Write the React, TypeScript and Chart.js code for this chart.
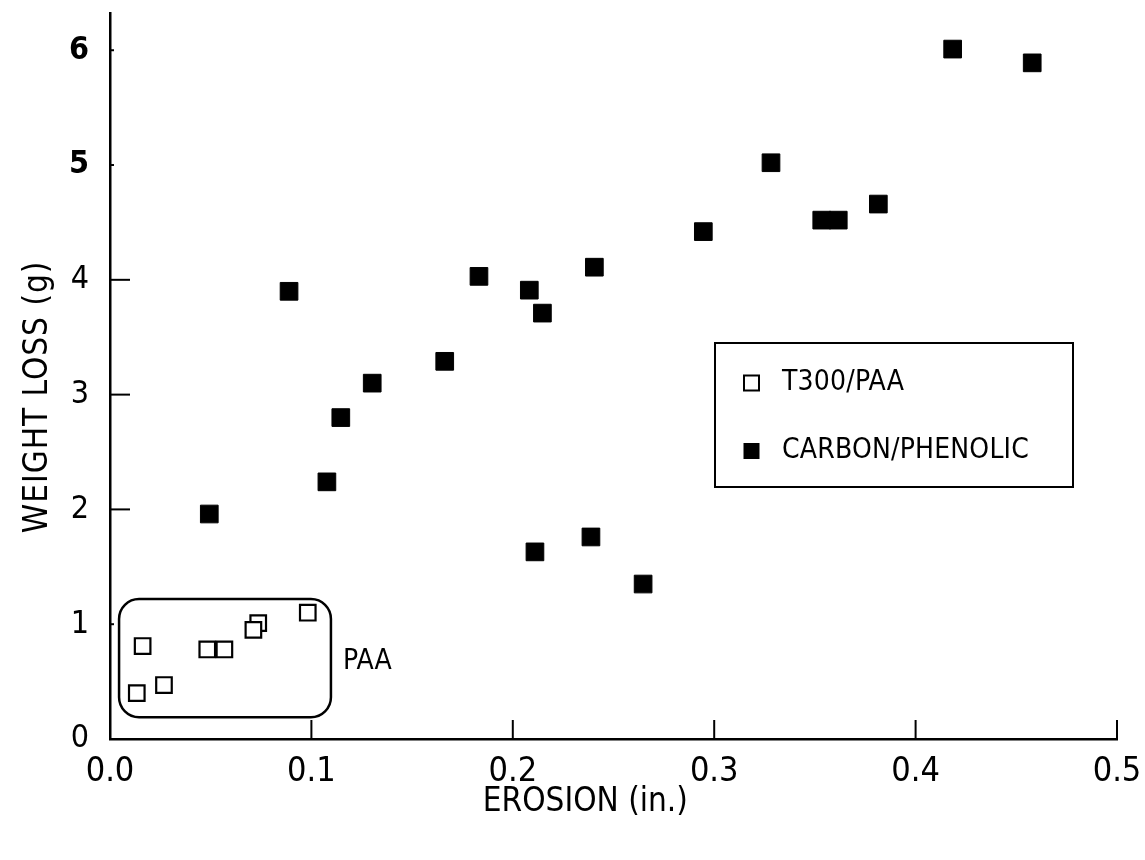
import React, { useEffect, useRef } from "react";
import { Chart, registerables } from "chart.js";

Chart.register(...registerables);

const FONT = "'Liberation Sans Narrow', 'Arial Narrow', 'DejaVu Sans Condensed', sans-serif";

// ---- data ----
const seriesNames = ["T300/PAA", "CARBON/PHENOLIC"];
const paaErosion = [0.0133, 0.0162, 0.0268, 0.0483, 0.0568, 0.0736, 0.0712, 0.0982];
const paaWeightLoss = [0.4, 0.81, 0.47, 0.78, 0.78, 1.01, 0.95, 1.1];
const cpErosion = [
  0.0493, 0.0889, 0.1077, 0.1146, 0.1302, 0.1662, 0.1832, 0.2082, 0.2147, 0.2405,
  0.211, 0.2388, 0.2647, 0.2946, 0.3282, 0.3534, 0.3616, 0.3815, 0.4184, 0.4579,
];
const cpWeightLoss = [
  1.96, 3.9, 2.24, 2.8, 3.1, 3.29, 4.03, 3.91, 3.71, 4.11,
  1.63, 1.76, 1.35, 4.42, 5.02, 4.52, 4.52, 4.66, 6.01, 5.89,
];
const xTickValues = [0, 0.1, 0.2, 0.3, 0.4, 0.5];
const yTickValues = [0, 1, 2, 3, 4, 5, 6];
const xTitle = "EROSION (in.)";
const yTitle = "WEIGHT LOSS (g)";
const groupLabel = "PAA";

// ---- annotation geometry (data units) ----
const GROUP_BOX = { x1: 0.0045, x2: 0.1097, y1: 0.19, y2: 1.22, radius: 20 };
const GROUP_LABEL_POS = { x: 0.1157, y: 0.67 };
const Y_TITLE_CENTER = 2.98;
const X_TITLE_CENTER = 0.236;

const decorPlugin = {
  id: "decor",
  beforeDatasetsDraw(chart: any) {
    const { ctx, scales } = chart;
    const xs = scales.x;
    const ys = scales.y;
    const l = xs.getPixelForValue(GROUP_BOX.x1);
    const r = xs.getPixelForValue(GROUP_BOX.x2);
    const t = ys.getPixelForValue(GROUP_BOX.y2);
    const b = ys.getPixelForValue(GROUP_BOX.y1);
    ctx.save();
    ctx.strokeStyle = "#000";
    ctx.lineWidth = 2.5;
    ctx.beginPath();
    ctx.roundRect(l, t, r - l, b - t, GROUP_BOX.radius);
    ctx.stroke();
    ctx.fillStyle = "#000";
    ctx.font = `28px ${FONT}`;
    ctx.textAlign = "left";
    ctx.textBaseline = "middle";
    ctx.fillText(groupLabel, xs.getPixelForValue(GROUP_LABEL_POS.x), ys.getPixelForValue(GROUP_LABEL_POS.y));
    ctx.restore();
  },
  afterDraw(chart: any) {
    const { ctx, chartArea, scales } = chart;
    const xs = scales.x;
    const ys = scales.y;
    ctx.save();
    ctx.strokeStyle = "#000";
    ctx.lineWidth = 2;
    // inward tick marks
    yTickValues.forEach((v) => {
      if (v === 0) return;
      const len = v >= 2 && v <= 4 ? 20 : 4;
      const py = ys.getPixelForValue(v);
      ctx.beginPath();
      ctx.moveTo(chartArea.left, py);
      ctx.lineTo(chartArea.left + len, py);
      ctx.stroke();
    });
    xTickValues.forEach((v) => {
      if (v === 0) return;
      const px = xs.getPixelForValue(v);
      ctx.beginPath();
      ctx.moveTo(px, chartArea.bottom);
      ctx.lineTo(px, chartArea.bottom - 19);
      ctx.stroke();
    });
    ctx.fillStyle = "#000";
    // x title
    ctx.save();
    ctx.font = `33px ${FONT}`;
    ctx.textAlign = "center";
    ctx.textBaseline = "middle";
    ctx.fillText(xTitle, xs.getPixelForValue(X_TITLE_CENTER), chartArea.bottom + 63);
    ctx.restore();
    // y title
    ctx.font = `33px ${FONT}`;
    (ctx as any).letterSpacing = "1px";
    ctx.textAlign = "center";
    ctx.textBaseline = "middle";
    ctx.translate(38, ys.getPixelForValue(Y_TITLE_CENTER));
    ctx.rotate(-Math.PI / 2);
    ctx.fillText(yTitle, 0, 0);
    ctx.restore();

    // legend box
    ctx.save();
    const L = { left: 715, top: 343, width: 358, height: 144 };
    ctx.strokeStyle = "#000";
    ctx.lineWidth = 2;
    ctx.strokeRect(L.left, L.top, L.width, L.height);
    ctx.font = `28px ${FONT}`;
    (ctx as any).letterSpacing = "0.2px";
    ctx.textAlign = "left";
    ctx.textBaseline = "middle";
    chart.data.datasets.forEach((ds: any, i: number) => {
      const cy = L.top + 40 + i * 68;
      const cx = L.left + 36.5;
      const s = 15;
      if (ds.backgroundColor === "#fff") {
        ctx.fillStyle = "#fff";
        ctx.fillRect(cx - s / 2, cy - s / 2, s, s);
        ctx.lineWidth = 2;
        ctx.strokeRect(cx - s / 2, cy - s / 2, s, s);
      } else {
        ctx.fillStyle = "#000";
        ctx.fillRect(cx - 8, cy - 8, 16, 16);
      }
      ctx.fillStyle = "#000";
      ctx.fillText(ds.label, L.left + 67, cy);
    });
    ctx.restore();
  },
};

export default function App() {
  const ref = useRef<HTMLCanvasElement | null>(null);
  useEffect(() => {
    if (!ref.current) return;
    const chart = new Chart(ref.current, {
      type: "scatter",
      data: {
        datasets: [
          {
            label: seriesNames[0],
            data: paaErosion.map((x, i) => ({ x, y: paaWeightLoss[i] })),
            pointStyle: "rect",
            pointRadius: 11,
            backgroundColor: "#fff",
            borderColor: "#000",
            borderWidth: 2.2,
          },
          {
            label: seriesNames[1],
            data: cpErosion.map((x, i) => ({ x, y: cpWeightLoss[i] })),
            pointStyle: "rect",
            pointRadius: 12.5,
            backgroundColor: "#000",
            borderColor: "#000",
            borderWidth: 1,
          },
        ],
      },
      options: {
        animation: false,
        responsive: true,
        maintainAspectRatio: false,
        events: [],
        layout: { padding: { left: 0, top: 13, right: 28, bottom: 0 } },
        plugins: { legend: { display: false }, tooltip: { enabled: false } },
        scales: {
          x: {
            type: "linear",
            min: 0,
            max: 0.5,
            afterBuildTicks: (s: any) => {
              s.ticks = xTickValues.map((v) => ({ value: v }));
            },
            afterFit: (s: any) => {
              s.height = 121;
              s.paddingLeft = 0;
              s.paddingRight = 0;
            },
            grid: { display: false },
            border: { display: true, color: "#000", width: 2.5 },
            ticks: {
              color: "#000",
              padding: 5,
              maxRotation: 0,
              font: { family: FONT, size: 34 },
              callback: (v: any) => Number(v).toFixed(1),
            },
            title: { display: false },
          },
          y: {
            type: "linear",
            min: 0,
            max: 6.32,
            afterBuildTicks: (s: any) => {
              s.ticks = yTickValues.map((v) => ({ value: v }));
            },
            afterFit: (s: any) => {
              s.width = 110;
              s.paddingTop = 0;
              s.paddingBottom = 0;
            },
            grid: { display: false },
            border: { display: true, color: "#000", width: 2.5 },
            ticks: {
              color: "#000",
              padding: 13,
              font: (c: any) => ({
                family: FONT,
                size: 32,
                weight: c.tick && c.tick.value >= 5 ? "bold" : "normal",
              }),
              callback: (v: any) => String(v),
            },
          },
        },
      },
      plugins: [decorPlugin],
    });
    return () => chart.destroy();
  }, []);
  return (
    <div style={{ position: "fixed", left: 0, top: 0, width: 1145, height: 860, background: "#fff" }}>
      <canvas ref={ref} />
    </div>
  );
}
